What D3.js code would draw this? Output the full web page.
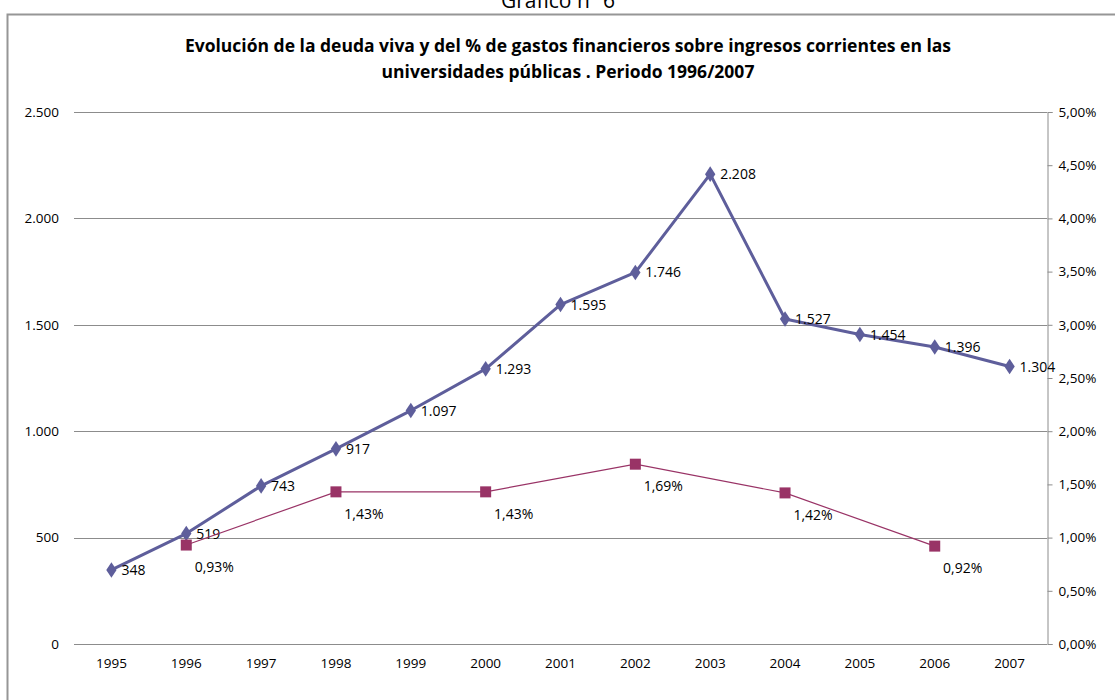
<!DOCTYPE html>
<html>
<head>
<meta charset="utf-8">
<script src="https://cdn.jsdelivr.net/npm/d3@7"></script>
<style>
  body { margin: 0; background: #fff; }
  text { font-family: "Open Sans", "Liberation Sans", sans-serif; fill: #000; }
</style>
</head>
<body>
<div id="chart"></div>
<script>
// Data.
var years = ["1995", "1996", "1997", "1998", "1999", "2000", "2001",
             "2002", "2003", "2004", "2005", "2006", "2007"];
var deudaViva = [348, 519, 743, 917, 1097, 1293, 1595, 1746, 2208, 1527, 1454, 1396, 1304];
var gastosYears = ["1996", "1998", "2000", "2002", "2004", "2006"];
var gastosPct = [0.93, 1.43, 1.43, 1.69, 1.42, 0.92];
var leftTicks = [0, 500, 1000, 1500, 2000, 2500];
var rightTicks = [0, 0.5, 1, 1.5, 2, 2.5, 3, 3.5, 4, 4.5, 5];

var width = 1115, height = 700;
var margin = {left: 74, right: 68, top: 112, bottom: 56};

var svg = d3.select("#chart").append("svg")
  .attr("width", width)
  .attr("height", height);

// Outer chart frame (runs past the bottom/right of the picture).
svg.append("rect")
  .attr("x", 7.5).attr("y", 14.5)
  .attr("width", 1120).attr("height", 700)
  .attr("fill", "none")
  .attr("stroke", "#969696")
  .attr("stroke-width", 2);

// Page caption, partly cut off at the top as in the original.
svg.append("text")
  .attr("x", 558).attr("y", 8)
  .attr("text-anchor", "middle")
  .style("font-size", "21px")
  .text("Gráfico nº 6");

var title = svg.append("text")
  .attr("text-anchor", "middle")
  .style("font-size", "17.5px")
  .style("font-weight", "bold");
title.append("tspan").attr("x", 568).attr("y", 52)
  .text("Evolución de la deuda viva y del % de gastos financieros sobre ingresos corrientes en las");
title.append("tspan").attr("x", 568).attr("y", 78)
  .text("universidades públicas . Periodo 1996/2007");

var x = d3.scaleBand()
  .domain(years)
  .range([margin.left, width - margin.right]);

var y = d3.scaleLinear()
  .domain([0, 2500])
  .range([height - margin.bottom, margin.top]);

var y2 = d3.scaleLinear()
  .domain([0, 5])
  .range([height - margin.bottom, margin.top]);

var cx = d => x(d) + x.bandwidth() / 2;
var fmtInt = v => d3.format(",")(v).replace(/,/g, ".");
var fmtPct = v => d3.format(".2f")(v).replace(".", ",") + "%";

// Gridlines
svg.append("g")
  .selectAll("line")
  .data(leftTicks)
  .enter().append("line")
    .attr("x1", margin.left)
    .attr("x2", width - margin.right)
    .attr("y1", d => Math.round(y(d)) + 0.5)
    .attr("y2", d => Math.round(y(d)) + 0.5)
    .attr("stroke", "#8c8c8c")
    .attr("stroke-width", 1);

// Left axis
var leftAxis = svg.append("g")
  .attr("transform", "translate(" + (margin.left - 12) + ",0)")
  .call(d3.axisLeft(y).tickValues(leftTicks).tickSize(0).tickFormat(fmtInt));
leftAxis.select(".domain").remove();
leftAxis.selectAll("text").style("font-size", "13.5px");

// Right axis
var rightAxis = svg.append("g")
  .attr("transform", "translate(" + (width - margin.right + 0.5) + ",0)")
  .call(d3.axisRight(y2).tickValues(rightTicks).tickSize(5).tickPadding(6).tickFormat(fmtPct));
rightAxis.select(".domain").attr("stroke", "#8c8c8c");
rightAxis.selectAll(".tick line").attr("stroke", "#8c8c8c");
rightAxis.selectAll("text").style("font-size", "13.5px");

// Bottom axis labels
var bottomAxis = svg.append("g")
  .attr("transform", "translate(0," + (height - margin.bottom) + ")")
  .call(d3.axisBottom(x).tickSize(0).tickPadding(14));
bottomAxis.select(".domain").remove();
bottomAxis.selectAll("text").style("font-size", "13.5px");

// Deuda viva series
var line = d3.line()
  .x((d, i) => cx(years[i]))
  .y(d => y(d));

svg.append("path")
  .datum(deudaViva)
  .attr("fill", "none")
  .attr("stroke", "#5e5e9b")
  .attr("stroke-width", 3)
  .attr("stroke-linejoin", "round")
  .attr("d", line);

svg.append("g")
  .selectAll("path")
  .data(deudaViva)
  .enter().append("path")
    .attr("d", d3.symbol().type(d3.symbolDiamond).size(70))
    .attr("transform", (d, i) => "translate(" + cx(years[i]) + "," + y(d) + ") scale(1.15,1)")
    .attr("fill", "#5e5e9b");

svg.append("g")
  .selectAll("text")
  .data(deudaViva)
  .enter().append("text")
    .attr("x", (d, i) => cx(years[i]) + 10)
    .attr("y", d => y(d) + 5)
    .style("font-size", "14px")
    .text(fmtInt);

// % gastos financieros series
var line2 = d3.line()
  .x((d, i) => cx(gastosYears[i]))
  .y(d => y2(d));

svg.append("path")
  .datum(gastosPct)
  .attr("fill", "none")
  .attr("stroke", "#993366")
  .attr("stroke-width", 1.2)
  .attr("d", line2);

svg.append("g")
  .selectAll("rect")
  .data(gastosPct)
  .enter().append("rect")
    .attr("x", (d, i) => cx(gastosYears[i]) - 5.5)
    .attr("y", d => y2(d) - 5.5)
    .attr("width", 11)
    .attr("height", 11)
    .attr("fill", "#993366");

svg.append("g")
  .selectAll("text")
  .data(gastosPct)
  .enter().append("text")
    .attr("x", (d, i) => cx(gastosYears[i]) + 28)
    .attr("y", d => y2(d) + 27)
    .attr("text-anchor", "middle")
    .style("font-size", "14px")
    .text(fmtPct);
</script>
</body>
</html>
